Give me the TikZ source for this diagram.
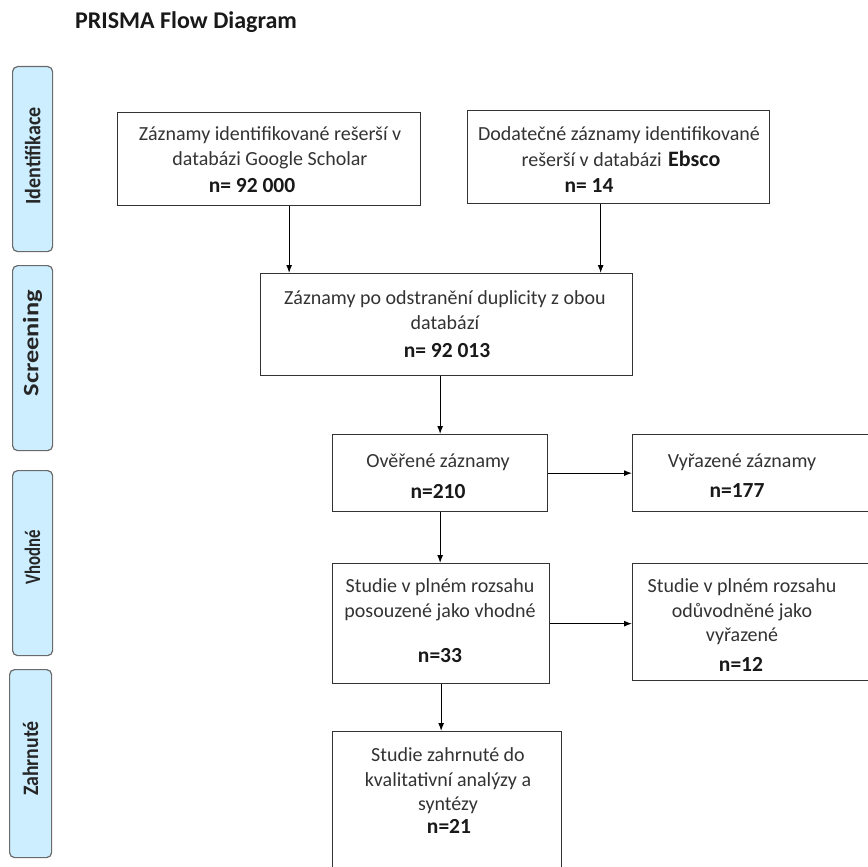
\documentclass[tikz,border=0pt]{standalone}
\usepackage{fontspec}
\setmainfont{Carlito}
\usetikzlibrary{arrows.meta}
\definecolor{txt}{HTML}{333333}
\definecolor{lbl}{HTML}{CCEEFF}
\definecolor{lblb}{HTML}{6A6A6A}
\begin{document}
\begin{tikzpicture}[x=1pt,y=-1pt,
  box/.style={draw=black!80, line width=1.3pt, fill=white, inner sep=0pt, anchor=north west},
  side/.style={draw=lblb, fill=lbl, rounded corners=5pt, line width=1.2pt, inner sep=0pt, anchor=north west},
  sidetext/.style={rotate=90, font=\bfseries\fontsize{22}{24}\selectfont, text=black!85, inner sep=0pt},
  tx/.style={text=txt, font=\fontsize{20}{24.5}\selectfont, align=center, inner sep=0pt},
  num/.style={font=\bfseries\fontsize{21.5}{24}\selectfont, text=black!90, inner sep=0pt},
  arr/.style={-{Latex[length=8pt,width=6pt]}, line width=1.1pt}]
\useasboundingbox (0,0) rectangle (867,867);
\fill[white] (0,0) rectangle (867,867);

\node[anchor=west, font=\bfseries\fontsize{24}{26}\selectfont, text=black!90, inner sep=0pt] (title) at (75,22) {PRISMA Flow Diagram};

% side labels
\node[side, minimum width=40pt, minimum height=185pt] (s1) at (12,66) {};
\node[sidetext] (s1t) at ([yshift=3pt]s1.center) {\scalebox{0.91}[1]{Identifikace}};
\node[side, minimum width=40pt, minimum height=185pt] (s2) at (12,265) {};
\node[sidetext] (s2t) at ([yshift=15pt]s2.center) {\scalebox{1.2}[1]{Screening}};
\node[side, minimum width=40pt, minimum height=185pt] (s3) at (12,470) {};
\node[sidetext] (s3t) at ([yshift=6pt]s3.center) {\scalebox{0.76}[1]{Vhodné}};
\node[side, minimum width=42pt, minimum height=188pt] (s4) at (9,669) {};
\node[sidetext] (s4t) at ([yshift=5pt]s4.center) {\scalebox{0.9}[1]{Zahrnuté}};

% boxes
\node[box, minimum width=303pt, minimum height=93pt] (b1) at (117,112) {};
\node[box, minimum width=302pt, minimum height=93pt] (b2) at (467,110) {};
\node[box, minimum width=372pt, minimum height=102pt] (b3) at (260,273) {};
\node[box, minimum width=215pt, minimum height=77pt] (b4) at (332,434) {};
\node[box, minimum width=240pt, minimum height=77pt] (b5) at (632,434) {};
\node[box, minimum width=217pt, minimum height=120pt] (b6) at (332,563) {};
\node[box, minimum width=240pt, minimum height=117pt] (b7) at (632,563) {};
\node[box, minimum width=229pt, minimum height=160pt] (b8) at (332,731) {};

% texts
\node[tx] (t1) at (270,148) {Záznamy identifikované rešerší v\\databázi Google Scholar};
\node[num] (n1) at (252,186) {n= 92 000};
\node[tx] (t2a) at (619,135) {Dodatečné záznamy identifikované};
\node[tx, anchor=east] (t2b) at (662,160) {rešerší v databázi};
\node[num, anchor=west, font=\bfseries\fontsize{22}{24}\selectfont] (t2c) at (668,159) {Ebsco};
\node[num] (n2) at (589,186) {n= 14};
\node[tx] (t3) at (445,310) {Záznamy po odstranění duplicity z obou\\databází};
\node[num] (n3) at (447,351) {n= 92 013};
\node[tx] (t4) at (438,462) {Ověřené záznamy};
\node[num] (n4) at (438,492) {n=210};
\node[tx] (t5) at (742,462) {Vyřazené záznamy};
\node[num] (n5) at (737,491) {n=177};
\node[tx] (t6) at (440,600) {Studie v plném rozsahu\\posouzené jako vhodné};
\node[num] (n6) at (440,656) {n=33};
\node[tx] (t7) at (742,612) {Studie v plném rozsahu\\odůvodněné jako\\vyřazené};
\node[num] (n7) at (741,664) {n=12};
\node[tx] (t8) at (448,781) {Studie zahrnuté do\\kvalitativní analýzy a\\syntézy};
\node[num] (n8) at (449,826) {n=21};

% arrows
\draw[arr] ([xshift=20pt]b1.south) -- ([xshift=20pt]b1.south |- b3.north);
\draw[arr] ([xshift=-18pt]b2.south) -- ([xshift=-18pt]b2.south |- b3.north);
\draw[arr] (b4.north |- b3.south) -- (b4.north);
\draw[arr] (b4.east) -- (b4.east -| b5.west);
\draw[arr] (b4.south) -- (b4.south |- b6.north);
\draw[arr] (b6.east) -- (b6.east -| b7.west);
\draw[arr] (b6.south) -- (b6.south |- b8.north);
\end{tikzpicture}
\end{document}
